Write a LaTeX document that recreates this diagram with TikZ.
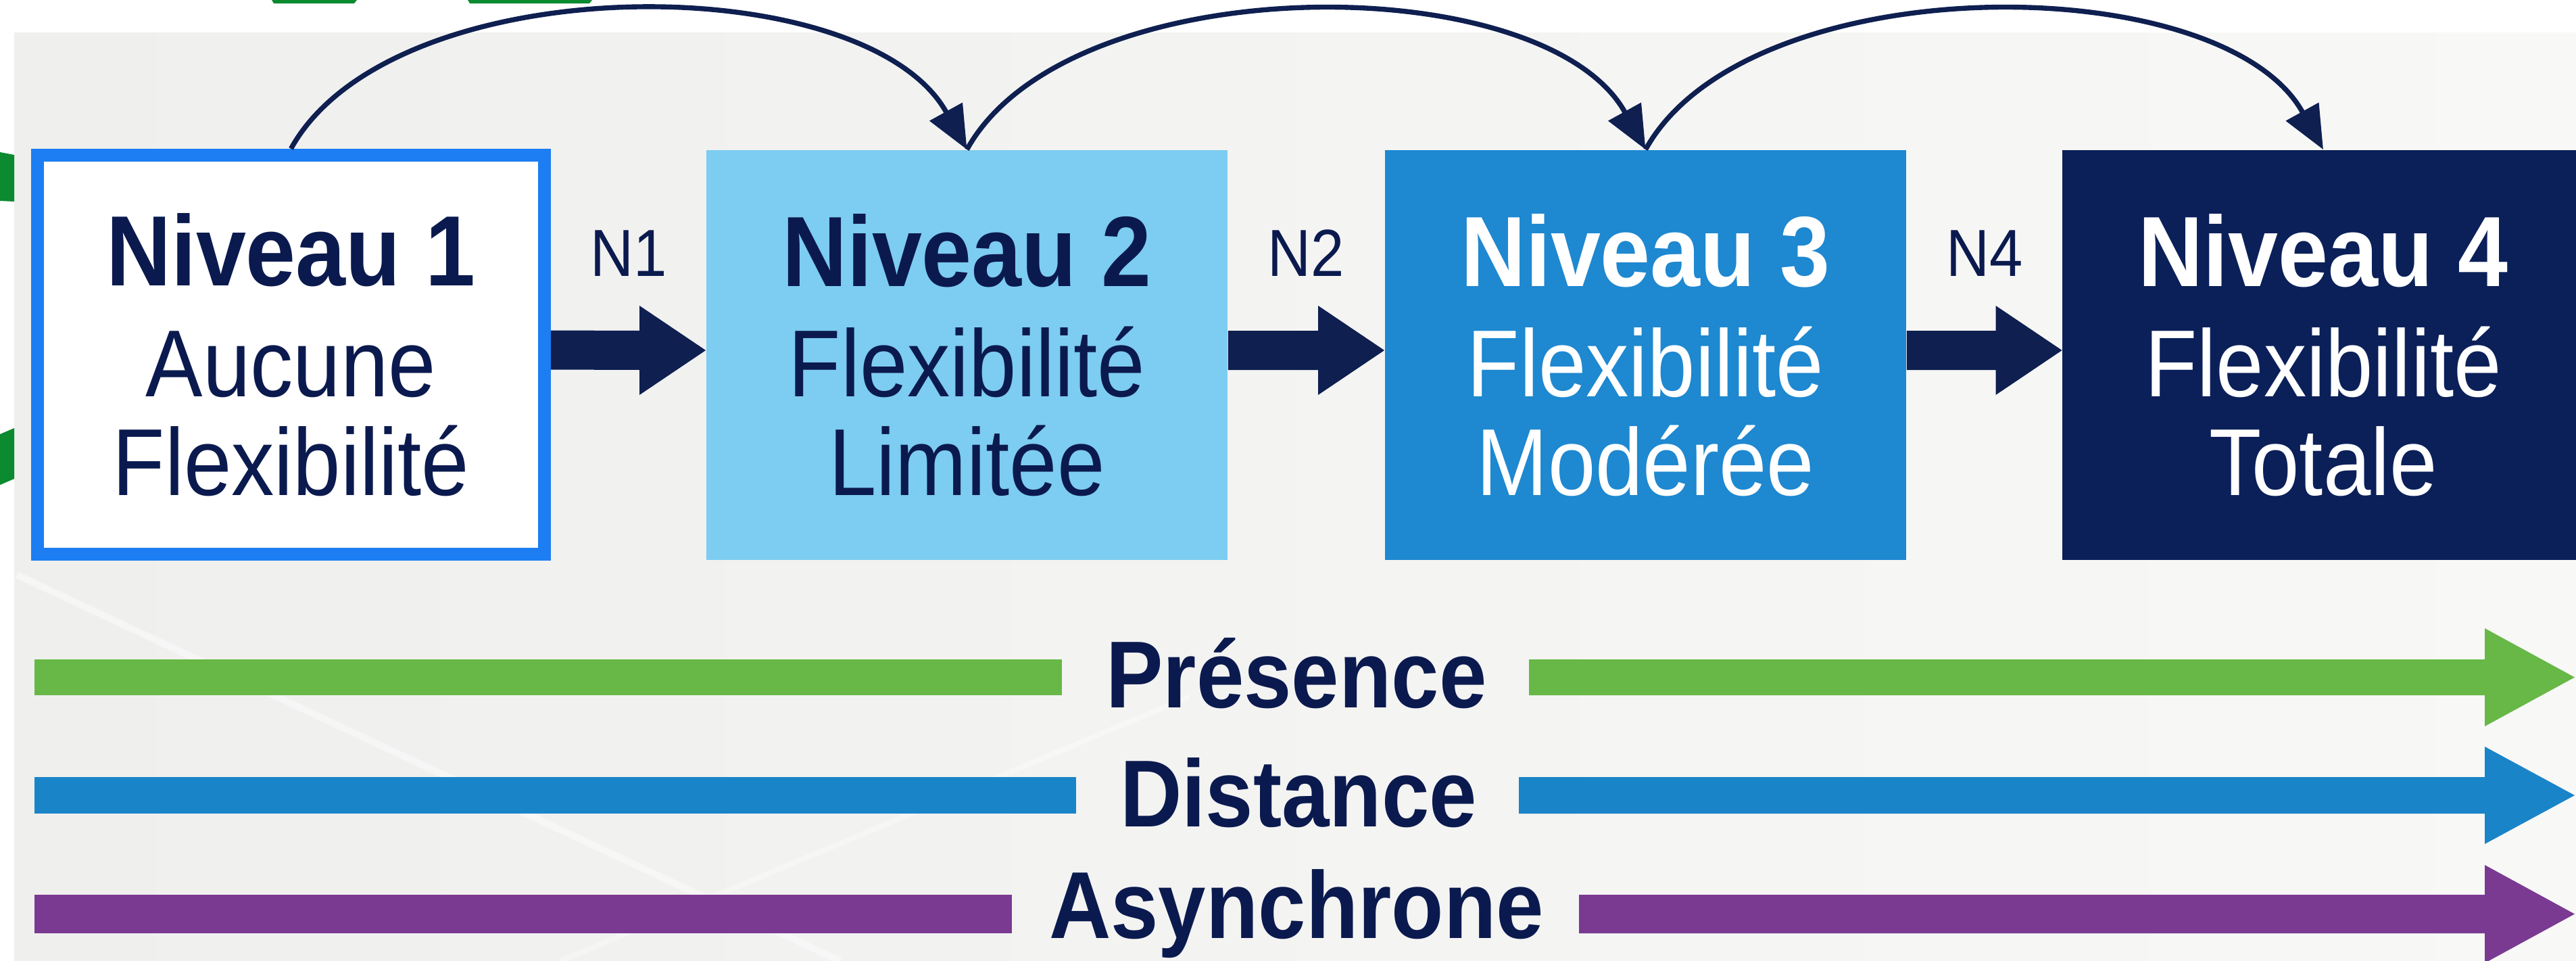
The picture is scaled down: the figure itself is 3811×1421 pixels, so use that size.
\documentclass[tikz,border=0pt]{standalone}
\usepackage{fontspec}
\setmainfont{Liberation Sans}[FakeStretch=0.9]
\usetikzlibrary{calc,arrows.meta}
\definecolor{navy}{HTML}{0E1F50}
\definecolor{navytext}{HTML}{0B1A4E}
\definecolor{bordblue}{HTML}{1C7EF2}
\definecolor{lightblue}{HTML}{7DCCF1}
\definecolor{midblue}{HTML}{1E88D0}
\definecolor{darkblue}{HTML}{0B2059}
\definecolor{gbar}{HTML}{67B847}
\definecolor{bbar}{HTML}{1A84C8}
\definecolor{pbar}{HTML}{7B3A92}
\definecolor{gmark}{HTML}{0B8A2F}
\definecolor{bgl}{HTML}{EFEFEE}
\definecolor{bgr}{HTML}{F8F8F7}
\tikzset{
  lvl/.style={rectangle, minimum width=7.71cm, minimum height=6.06cm, inner sep=0pt,
    align=center, font=\fontsize{40}{41.5}\selectfont},
  lvlone/.style={lvl, fill=white, draw=bordblue, line width=0.19cm,
    minimum width=7.5cm, minimum height=5.9cm, text=navytext},
  lvltwo/.style={lvl, fill=lightblue, text=navytext},
  lvlthree/.style={lvl, fill=midblue, text=white},
  lvlfour/.style={lvl, fill=darkblue, text=white},
  nlab/.style={font=\fontsize{28}{30}\selectfont, text=navytext, inner sep=0pt, anchor=base},
  bartext/.style={font=\bfseries\fontsize{40}{42}\selectfont, text=navytext, inner sep=0pt, anchor=base},
  curvearr/.style={draw=navy, line width=2.1pt, -{Triangle[length=0.64cm,width=0.54cm]}},
}
\newcommand{\bigN}[1]{\textbf{\fontsize{42}{41.5}\selectfont #1}}
\newcommand{\navyblock}[2]{%
  \fill[navy] ($(#1.east)+(0,-36)$) -- ($(#2.west)+(-98,-36)$) -- ($(#2.west)+(-98,-73)$)
    -- ($(#2.west)+(0,-7)$) -- ($(#2.west)+(-98,59)$) -- ($(#2.west)+(-98,22)$)
    -- ($(#1.east)+(0,22)$) -- cycle;}
\begin{document}
\begin{tikzpicture}[x=0.01cm, y=-0.01cm]
\useasboundingbox (0,0) rectangle (3811,1421);
\clip (0,0) rectangle (3811,1421);
% background
\fill[white] (0,0) rectangle (3811,1421);
\shade[left color=bgl, right color=bgr] (21,48) rectangle (3811,1421);
\draw[white, line width=0.10cm, opacity=0.45] (25,850) -- (1243,1421);
\draw[white, line width=0.08cm, opacity=0.35] (829,1421) -- (1760,1030);
% green marks
\fill[gmark] (402,0) -- (528,0) -- (524,5) -- (405,5) -- cycle;
\fill[gmark] (692,0) -- (876,0) -- (872,5) -- (695,5) -- cycle;
\fill[gmark] (0,225) -- (21,229) -- (21,298) -- (0,297) -- cycle;
\fill[gmark] (0,642) -- (21,633) -- (21,708) -- (0,717) -- cycle;
% boxes
\node[lvlone]   (b1) at (430.5,524.5) {\bigN{Niveau 1}\\[5pt]Aucune\\Flexibilité};
\node[lvltwo]   (b2) at (1430.5,525) {\bigN{Niveau 2}\\[5pt]Flexibilité\\Limitée};
\node[lvlthree] (b3) at (2434.5,525) {\bigN{Niveau 3}\\[5pt]Flexibilité\\Modérée};
\node[lvlfour]  (b4) at (3437,525) {\bigN{Niveau 4}\\[5pt]Flexibilité\\Totale};
% block arrows
\navyblock{b1}{b2}
\navyblock{b2}{b3}
\navyblock{b3}{b4}
% labels
\node[nlab] (n1) at (930,408) {N1};
\node[nlab] (n2) at (1932,408) {N2};
\node[nlab] (n4) at (2936,408) {N4};
% curved arrows
\draw[curvearr] (b1.north) .. controls ($(b1.north)+(150,-271)$) and ($(b2.north)+(-150,-271)$) .. (b2.north);
\draw[curvearr] (b2.north) .. controls ($(b2.north)+(150,-271)$) and ($(b3.north)+(-150,-271)$) .. (b3.north);
\draw[curvearr] (b3.north) .. controls ($(b3.north)+(150,-271)$) and ($(b4.north)+(-150,-271)$) .. (b4.north);
% bars
\fill[gbar] (51,975) rectangle (1571,1028);
\fill[gbar] (2262,975) -- (3676,975) -- (3676,929) -- (3809,1001.5) -- (3676,1074) -- (3676,1028) -- (2262,1028) -- cycle;
\fill[bbar] (51,1149) rectangle (1592,1203);
\fill[bbar] (2247,1149) -- (3676,1149) -- (3676,1104) -- (3809,1176) -- (3676,1248) -- (3676,1203) -- (2247,1203) -- cycle;
\fill[pbar] (51,1323) rectangle (1497,1380);
\fill[pbar] (2336,1323) -- (3676,1323) -- (3676,1279) -- (3809,1351.5) -- (3676,1424) -- (3676,1380) -- (2336,1380) -- cycle;
\node[bartext] (tP) at (1918,1046) {Présence};
\node[bartext] (tD) at (1921,1222) {Distance};
\node[bartext] (tA) at (1918,1387) {Asynchrone};
\end{tikzpicture}
\end{document}
